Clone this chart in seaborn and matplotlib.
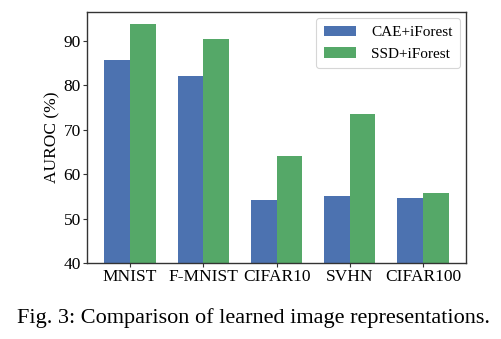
import matplotlib
matplotlib.use("Agg")
import matplotlib.pyplot as plt
import seaborn as sns
import pandas as pd

datasets = ["MNIST", "F-MNIST", "CIFAR10", "SVHN", "CIFAR100"]
cae_iforest = [85.7, 82.2, 54.2, 55.1, 54.6]
ssd_iforest = [93.9, 90.5, 64.1, 73.5, 55.7]
methods = ["CAE+iForest", "SSD+iForest"]

df = pd.DataFrame({
    "dataset": datasets * 2,
    "auroc": cae_iforest + ssd_iforest,
    "method": [methods[0]] * len(datasets) + [methods[1]] * len(datasets),
})

sns.set_theme(style="ticks")
plt.rcParams["font.family"] = ["Liberation Serif", "DejaVu Serif"]
plt.rcParams["text.color"] = "black"
plt.rcParams["axes.labelcolor"] = "black"
plt.rcParams["xtick.color"] = "black"
plt.rcParams["ytick.color"] = "black"

fig = plt.figure(figsize=(5.02, 3.39), dpi=100)
ax = fig.add_axes([87 / 502, 1 - 263 / 339, (466 - 87) / 502, (263 - 12) / 339])

sns.barplot(data=df, x="dataset", y="auroc", hue="method", ax=ax,
            palette=["#4C72B0", "#55A868"], width=0.7, saturation=1,
            edgecolor="none", linewidth=0)

ax.set_ylim(40, 96.5)
ax.set_xlim(-0.585, 4.585)
ax.set_yticks([40, 50, 60, 70, 80, 90])
ax.set_xlabel("")
ax.set_ylabel("AUROC (%)", fontsize=12.5, labelpad=2)
ax.tick_params(axis="both", labelsize=12.5, length=3, width=0.8,
               color="#333333", pad=1.5)
for s in ax.spines.values():
    s.set_color("#333333")
    s.set_linewidth(1.0)

leg = ax.legend(loc="upper right", fontsize=11, frameon=True, fancybox=True,
                borderpad=0.5, handlelength=2.1, handletextpad=1.0,
                borderaxespad=0.4)
leg.get_frame().set_edgecolor("#cccccc")
leg.get_frame().set_linewidth(0.8)

fig.text(0.505, 1 - 318 / 339, "Fig. 3: Comparison of learned image representations.",
         ha="center", va="center", fontsize=16)

fig.savefig("out.png", dpi=100)
